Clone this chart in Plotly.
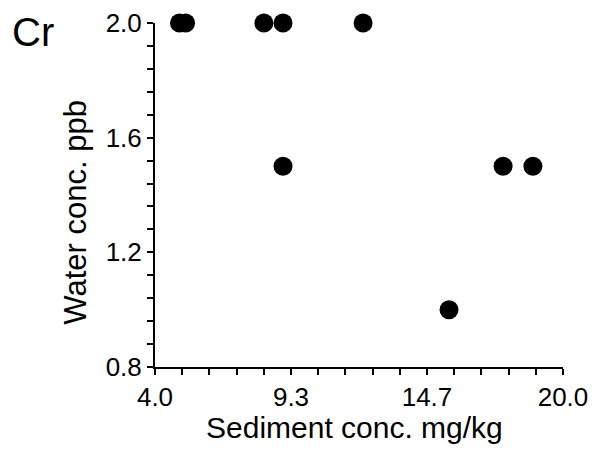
import plotly.graph_objects as go

sediment = [4.96, 5.20, 8.27, 9.02, 12.16, 9.02, 17.65, 18.82, 15.53]
water = [2.0, 2.0, 2.0, 2.0, 2.0, 1.5, 1.5, 1.5, 1.0]

x_tickvals = [4.0, 4.0 + 16 / 3, 4.0 + 32 / 3, 20.0]
x_ticktext = ["4.0", "9.3", "14.7", "20.0"]
y_tickvals = [0.8, 1.2, 1.6, 2.0]
y_ticktext = ["0.8", "1.2", "1.6", "2.0"]

FONT = "Liberation Sans, Arial, sans-serif"

fig = go.Figure()
fig.add_trace(go.Scatter(
    x=sediment, y=water, mode="markers",
    marker=dict(size=19, color="black"),
    cliponaxis=False, showlegend=False,
))

axis_common = dict(
    showline=True, linecolor="black", linewidth=2,
    ticks="outside", ticklen=6, tickwidth=1.5, tickcolor="black",
    showgrid=False, zeroline=False, automargin=False,
    tickfont=dict(family=FONT, size=26, color="black"),
)

fig.update_xaxes(
    range=[4.0, 20.0], tickmode="array", tickvals=x_tickvals, ticktext=x_ticktext,
    minor=dict(ticks="outside", ticklen=6, tickwidth=1.5, tickcolor="black",
               tick0=4.0, dtick=16 / 15),
    **axis_common,
)
fig.update_yaxes(
    range=[0.8, 2.0], tickmode="array", tickvals=y_tickvals, ticktext=y_ticktext,
    minor=dict(ticks="outside", ticklen=6, tickwidth=1.5, tickcolor="black",
               tick0=0.8, dtick=0.08),
    **axis_common,
)

fig.update_layout(
    width=588, height=441,
    margin=dict(l=147, r=33, t=15, b=82),
    plot_bgcolor="white", paper_bgcolor="white",
    annotations=[
        dict(text="Sediment conc. mg/kg", xref="paper", yref="paper",
             x=0.49, y=-0.175, xanchor="center", yanchor="middle", showarrow=False,
             font=dict(family=FONT, size=30, color="black")),
        dict(text="Water conc. ppb", xref="paper", yref="paper",
             x=-0.195, y=0.45, xanchor="center", yanchor="middle", showarrow=False,
             textangle=-90, font=dict(family=FONT, size=31, color="black")),
        dict(text="Cr", xref="paper", yref="paper",
             x=-0.355, y=1.045, xanchor="left", yanchor="top", showarrow=False,
             font=dict(family=FONT, size=40, color="black")),
    ],
)

fig.write_html("out.html")
